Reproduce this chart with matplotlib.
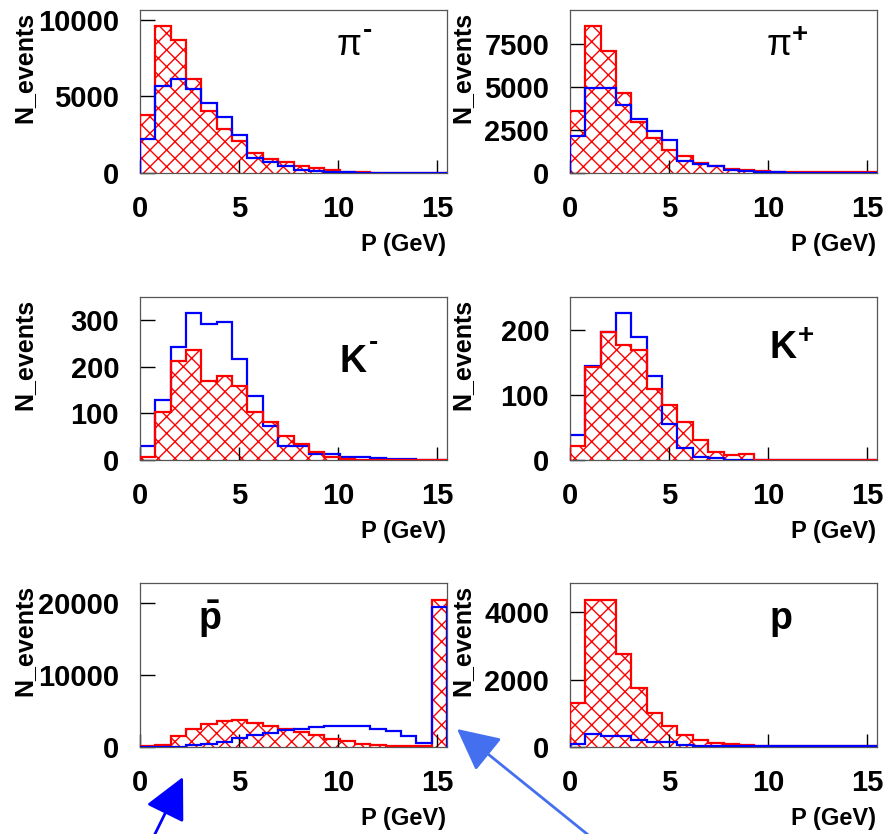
import numpy as np
import matplotlib
matplotlib.use("Agg")
import matplotlib.pyplot as plt

plt.rcParams['font.family'] = ['Liberation Sans', 'DejaVu Sans']
plt.rcParams['mathtext.fontset'] = 'custom'
plt.rcParams['mathtext.rm'] = 'Liberation Sans'
plt.rcParams['mathtext.bf'] = 'Liberation Sans:bold'
plt.rcParams['hatch.linewidth'] = 1.0
plt.rcParams['hatch.color'] = '#ff0000'

# ---- data ----
P_MIN, P_MAX, N_BINS = 0.0, 15.5, 20

pim_red = [3800, 9610, 8700, 6150, 4020, 2870, 2065, 1300, 910, 700, 435, 300, 170, 65, 40, 30, 30, 30, 30, 30]
pim_blue = [2220, 5700, 6170, 5480, 4565, 3650, 2500, 960, 700, 480, 220, 130, 65, 40, 20, 20, 20, 20, 20, 20]

pip_red = [3640, 8565, 7110, 4690, 3000, 2035, 1320, 970, 580, 430, 250, 155, 100, 40, 40, 30, 30, 30, 30, 30]
pip_blue = [2170, 4980, 4980, 3970, 3140, 2460, 1940, 720, 520, 390, 190, 100, 40, 30, 20, 20, 20, 20, 20, 20]

km_red = [7, 102, 212, 236, 170, 180, 159, 104, 82, 51, 34, 17, 6, 2, 1, 1, 0, 0, 0, 0]
km_blue = [31, 129, 243, 316, 291, 297, 216, 137, 73, 29, 29, 13, 13, 7, 7, 5, 2, 2, 0, 0]

kp_red = [22, 143, 197, 177, 169, 110, 85, 59, 31, 13, 8, 10, 0, 0, 0, 0, 0, 0, 0, 0]
kp_blue = [38, 144, 197, 227, 190, 130, 55, 18, 5, 3, 0, 0, 0, 0, 0, 0, 0, 0, 0, 0]

pbar_red = [93, 326, 1535, 2558, 3256, 3628, 3721, 3349, 2884, 2558, 2093, 1721, 1163, 791, 465, 326, 140, 140, 140, 20465]
pbar_blue = [47, 47, 47, 233, 465, 698, 1302, 1628, 1953, 2326, 2558, 2791, 2930, 2930, 2930, 2558, 2233, 1535, 605, 19442]

p_red = [1290, 4370, 4370, 2760, 1760, 1010, 625, 357, 200, 120, 80, 50, 20, 20, 20, 20, 20, 20, 20, 20]
p_blue = [100, 387, 340, 340, 200, 160, 140, 70, 30, 20, 20, 20, 20, 20, 20, 20, 20, 20, 20, 20]

x_ticks = [0, 5, 10, 15]
y_ticks = {
    'pim': [0, 5000, 10000],
    'pip': [0, 2500, 5000, 7500],
    'km': [0, 100, 200, 300],
    'kp': [0, 100, 200],
    'pbar': [0, 10000, 20000],
    'p': [0, 2000, 4000],
}
y_max = {'pim': 10650, 'pip': 9500, 'km': 350, 'kp': 251, 'pbar': 22800, 'p': 4860}

edges = np.linspace(P_MIN, P_MAX, N_BINS + 1)

W, H = 888, 834
fig = plt.figure(figsize=(W / 100, H / 100), dpi=100)

RED = '#ff0000'
BLUE = '#0000ff'

# panel boxes in pixels: (left, right) and (top, bottom)
cols = [(140, 447), (570, 877)]
rows = [(10, 173), (297, 460), (583, 747)]

panels = [
    ('pim', pim_red, pim_blue, 0, 0, True),
    ('pip', pip_red, pip_blue, 0, 1, True),
    ('km', km_red, km_blue, 1, 0, False),
    ('kp', kp_red, kp_blue, 1, 1, False),
    ('pbar', pbar_red, pbar_blue, 2, 0, True),
    ('p', p_red, p_blue, 2, 1, True),
]

axes = {}
for key, red, blue, r, c, blue_on_top in panels:
    l, rr = cols[c]
    t, b = rows[r]
    ax = fig.add_axes([l / W, 1 - b / H, (rr - l) / W, (b - t) / H])
    axes[key] = ax
    zb = 4 if blue_on_top else 2
    zr = 3
    ax.stairs(red, edges, fill=True, hatch='xx', facecolor='none',
              edgecolor=RED, linewidth=0, zorder=1)
    ax.stairs(red, edges, color=RED, linewidth=1.6, baseline=0, zorder=zr)
    ax.stairs(blue, edges, color=BLUE, linewidth=1.6, baseline=0, zorder=zb)
    ax.set_xlim(P_MIN, P_MAX)
    ax.set_ylim(0, y_max[key])
    ax.set_xticks(x_ticks)
    ax.set_yticks(y_ticks[key])
    ax.minorticks_off()
    ax.tick_params(axis='x', direction='in', length=9.5, width=1, pad=16,
                   labelsize=21, color='black')
    ax.tick_params(axis='y', direction='in', length=11, width=1, pad=15,
                   labelsize=21, color='black')
    for lab in ax.get_xticklabels() + ax.get_yticklabels():
        lab.set_fontweight('bold')
    for s in ax.spines.values():
        s.set_color('#555555')
        s.set_linewidth(0.9)
    ax.set_facecolor('white')
    ylx = -0.378 if c == 0 else -0.349
    ax.text(ylx, 0.988, 'N_events', transform=ax.transAxes, rotation=90,
            ha='center', va='top', fontsize=18, fontweight='bold')
    ax.text(0.997, -0.436, 'P (GeV)', transform=ax.transAxes,
            ha='right', va='center', fontsize=17, fontweight='bold')


def ax_pos(ax, px, py):
    """convert figure pixel (from top-left) into axes fraction"""
    bb = ax.get_position()
    fx = px / W
    fy = 1 - py / H
    return (fx - bb.x0) / bb.width, (fy - bb.y0) / bb.height


def label(ax, s, px, py, **kw):
    x, y = ax_pos(ax, px, py)
    ax.text(x, y, s, transform=ax.transAxes, **kw)


# pi-
label(axes['pim'], 'π', 349, 55, ha='center', va='baseline', fontsize=26)
label(axes['pim'], '-', 367, 38, ha='center', va='baseline', fontsize=20, fontweight='bold')
# pi+
label(axes['pip'], 'π', 779, 55, ha='center', va='baseline', fontsize=26)
label(axes['pip'], '+', 800, 42, ha='center', va='baseline', fontsize=20, fontweight='bold')
# K-
label(axes['km'], 'K', 353, 372, ha='center', va='baseline', fontsize=27, fontweight='bold')
label(axes['km'], '-', 373, 350, ha='center', va='baseline', fontsize=20, fontweight='bold')
# K+
label(axes['kp'], 'K', 783, 358, ha='center', va='baseline', fontsize=27, fontweight='bold')
label(axes['kp'], '+', 806, 343, ha='center', va='baseline', fontsize=20, fontweight='bold')
# pbar
label(axes['pbar'], r'$\mathbf{\bar{p}}$', 210, 630, ha='center', va='baseline', fontsize=27)
# p
label(axes['p'], 'p', 781, 629, ha='center', va='baseline', fontsize=27, fontweight='bold')

# arrows
ann_kw = dict(xycoords='figure pixels', textcoords='figure pixels')
fig.add_artist(plt.Annotation('', xy=(183, H - 777), xytext=(153, -4), **ann_kw,
               arrowprops=dict(arrowstyle='-|>,head_length=1.0,head_width=0.5',
                               color='#0000ff', lw=2, mutation_scale=26,
                               shrinkA=0, shrinkB=0)))
fig.add_artist(plt.Annotation('', xy=(457, H - 729), xytext=(592, -4), **ann_kw,
               arrowprops=dict(arrowstyle='-|>,head_length=1.0,head_width=0.5',
                               color='#4470f0', lw=2, mutation_scale=26,
                               shrinkA=0, shrinkB=0)))

fig.savefig('out.png', dpi=100, facecolor='white')
